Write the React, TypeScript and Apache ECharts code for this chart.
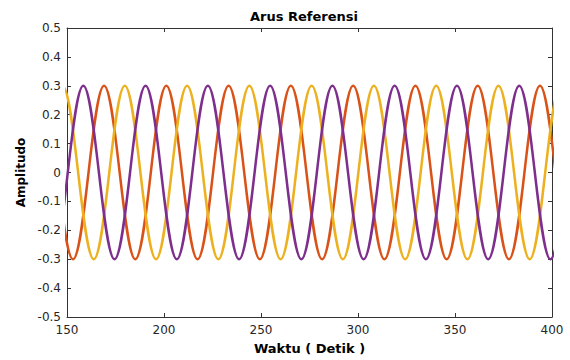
import React, { useEffect, useRef } from "react";
import * as echarts from "echarts";

// ---- Data ----
const chartTitle = "Arus Referensi";
const xAxisLabel = "Waktu ( Detik )";
const yAxisLabel = "Amplitudo";

const xMin = 150;
const xMax = 400;
const xStep = 50;
const yMin = -0.5;
const yMax = 0.5;
const yStep = 0.1;

// Extremum times (peaks / troughs) of each phase, and their values
const redTimes = [121.0, 137.0, 153.1, 169.1, 185.2, 201.2, 217.3, 233.3, 249.4, 265.4, 281.5, 297.5, 313.6, 329.6, 345.7, 361.7, 377.8, 393.8, 409.9, 425.9];
const redValues = [-0.3, 0.3, -0.3, 0.3, -0.3, 0.3, -0.3, 0.3, -0.3, 0.3, -0.3, 0.3, -0.3, 0.3, -0.3, 0.3, -0.3, 0.3, -0.3, 0.3];

const yellowTimes = [131.7, 147.7, 163.8, 179.8, 195.9, 211.9, 228.0, 244.0, 260.1, 276.1, 292.2, 308.2, 324.3, 340.3, 356.4, 372.4, 388.5, 404.5, 420.6];
const yellowValues = [-0.3, 0.3, -0.3, 0.3, -0.3, 0.3, -0.3, 0.3, -0.3, 0.3, -0.3, 0.3, -0.3, 0.3, -0.3, 0.3, -0.3, 0.3, -0.3];

const purpleTimes = [126.3, 142.4, 158.4, 174.5, 190.5, 206.6, 222.6, 238.7, 254.7, 270.8, 286.8, 302.9, 318.9, 335.0, 351.0, 367.1, 383.1, 399.2, 415.2, 431.3];
const purpleValues = [0.3, -0.3, 0.3, -0.3, 0.3, -0.3, 0.3, -0.3, 0.3, -0.3, 0.3, -0.3, 0.3, -0.3, 0.3, -0.3, 0.3, -0.3, 0.3, -0.3];

const seriesColors = ["#D95319", "#EDB120", "#7E2F8E"];

const pairs = (xs: number[], ys: number[]) => xs.map((x, i) => [x, ys[i]]);

export default function App() {
  const ref = useRef<HTMLDivElement>(null);

  useEffect(() => {
    if (!ref.current) return;
    const chart = echarts.init(ref.current, undefined, { renderer: "svg" });
    const axisColor = "#333333";
    const font = "'DejaVu Sans', 'Liberation Sans', sans-serif";

    const lineSeries = (name: string, data: number[][], color: string) => ({
      name,
      type: "line",
      data,
      xAxisIndex: 0,
      yAxisIndex: 0,
      showSymbol: false,
      smooth: 0.364,
      clip: true,
      lineStyle: { color, width: 2.5 },
      itemStyle: { color },
      emphasis: { disabled: true },
    });

    const boxAxisLine = { show: true, onZero: false, lineStyle: { color: axisColor, width: 1 } };
    const boxTick = { show: true, inside: true, length: 4, lineStyle: { color: axisColor } };

    chart.setOption({
      animation: false,
      backgroundColor: "#ffffff",
      title: {
        text: chartTitle,
        left: 250,
        top: 10,
        padding: 0,
        textStyle: { fontFamily: font, fontSize: 13, fontWeight: "bold", color: "#000000" },
      },
      grid: { left: 67, right: 18, top: 28, bottom: 38, containLabel: false },
      xAxis: [
        {
          type: "value",
          position: "bottom",
          min: xMin,
          max: xMax,
          interval: xStep,
          name: xAxisLabel,
          nameLocation: "middle",
          nameGap: 25,
          nameTextStyle: { fontFamily: font, fontSize: 13, fontWeight: "bold", color: "#000000" },
          axisLine: boxAxisLine,
          axisTick: boxTick,
          axisLabel: { fontFamily: font, fontSize: 12, color: "#262626", margin: 7 },
          splitLine: { show: false },
        },
        {
          type: "value",
          position: "top",
          min: xMin,
          max: xMax,
          interval: xStep,
          axisLine: boxAxisLine,
          axisTick: boxTick,
          axisLabel: { show: false },
          splitLine: { show: false },
        },
      ],
      yAxis: [
        {
          type: "value",
          position: "left",
          min: yMin,
          max: yMax,
          interval: yStep,
          name: yAxisLabel,
          nameLocation: "middle",
          nameGap: 40,
          nameRotate: 90,
          nameTextStyle: { fontFamily: font, fontSize: 12, fontWeight: "bold", color: "#000000" },
          axisLine: boxAxisLine,
          axisTick: boxTick,
          axisLabel: { fontFamily: font, fontSize: 12, color: "#262626", margin: 6 },
          splitLine: { show: false },
        },
        {
          type: "value",
          position: "right",
          min: yMin,
          max: yMax,
          interval: yStep,
          axisLine: boxAxisLine,
          axisTick: boxTick,
          axisLabel: { show: false },
          splitLine: { show: false },
        },
      ],
      series: [
        lineSeries("Fasa R", pairs(redTimes, redValues), seriesColors[0]),
        lineSeries("Fasa S", pairs(yellowTimes, yellowValues), seriesColors[1]),
        lineSeries("Fasa T", pairs(purpleTimes, purpleValues), seriesColors[2]),
      ],
    });

    return () => chart.dispose();
  }, []);

  return (
    <div
      ref={ref}
      style={{ position: "absolute", left: 0, top: 0, width: 570, height: 360, background: "#fff" }}
    />
  );
}
